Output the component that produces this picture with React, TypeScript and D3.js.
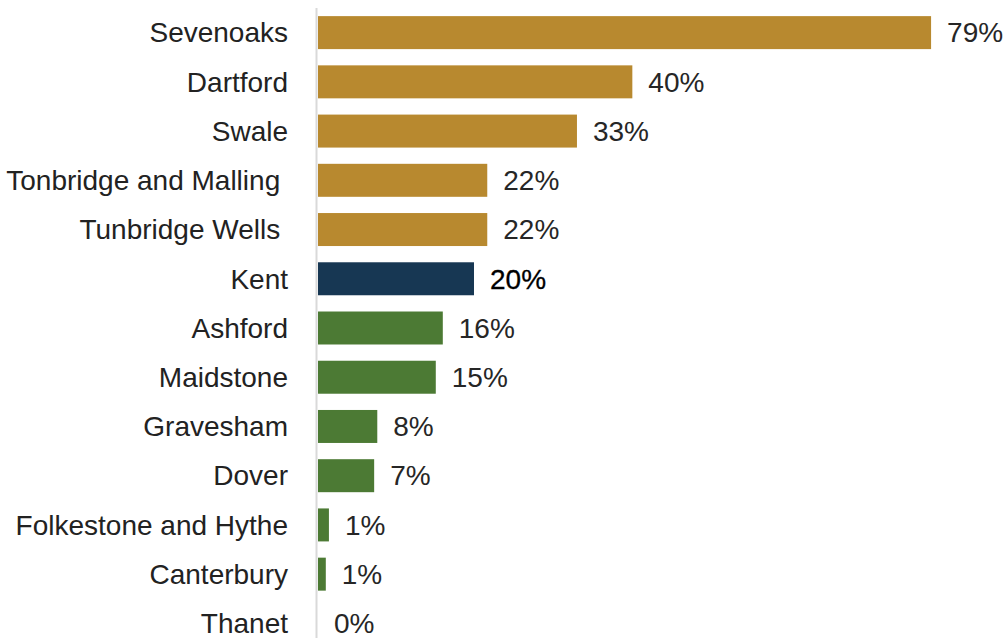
import React from "react";
import * as d3 from "d3";

const categories = [
  "Sevenoaks",
  "Dartford",
  "Swale",
  "Tonbridge and Malling ",
  "Tunbridge Wells ",
  "Kent",
  "Ashford",
  "Maidstone",
  "Gravesham",
  "Dover",
  "Folkestone and Hythe",
  "Canterbury",
  "Thanet",
];
const values = [78.6, 40.3, 33.2, 21.7, 21.7, 20.0, 16.0, 15.1, 7.6, 7.2, 1.4, 1.0, 0];
const groups = ["above", "above", "above", "above", "above", "kent", "below", "below", "below", "below", "below", "below", "below"];
const colorMap: Record<string, string> = { above: "#B8892F", kent: "#173753", below: "#4C7A34" };

const W = 1008;
const H = 638;

export default function App() {
  const x = d3.scaleLinear().domain([0, 100]).range([318, 1098]);
  const y = d3.scaleBand<string>().domain(categories).range([8, 648]).paddingInner(0.33).paddingOuter(0.165);
  const font = "'Liberation Sans', Arial, Helvetica, sans-serif";
  return (
    <svg width={W} height={H} style={{ position: "absolute", left: 0, top: 0, background: "#fff" }} fontFamily={font}>
      {categories.map((c, i) => {
        const yc = (y(c) as number) + y.bandwidth() / 2;
        const isKent = groups[i] === "kent";
        return (
          <g key={c}>
            <rect x={x(0)} y={y(c)} width={x(values[i]) - x(0)} height={y.bandwidth()} fill={colorMap[groups[i]]} />
            <text x={288} y={yc} dy="0.35em" textAnchor="end" fontSize={28} fill="#222" style={{ whiteSpace: "pre" }}>
              {c}
            </text>
            <text
              x={x(values[i]) + 16}
              y={yc}
              dy="0.35em"
              fontSize={28}
              fill={isKent ? "#000" : "#262626"}
              stroke={isKent ? "#000" : "none"}
              strokeWidth={isKent ? 0.3 : 0}
            >
              {d3.format(".0f")(values[i]) + "%"}
            </text>
          </g>
        );
      })}
      <line x1={316.5} x2={316.5} y1={8} y2={H} stroke="#d9d9d9" strokeWidth={2} />
    </svg>
  );
}
